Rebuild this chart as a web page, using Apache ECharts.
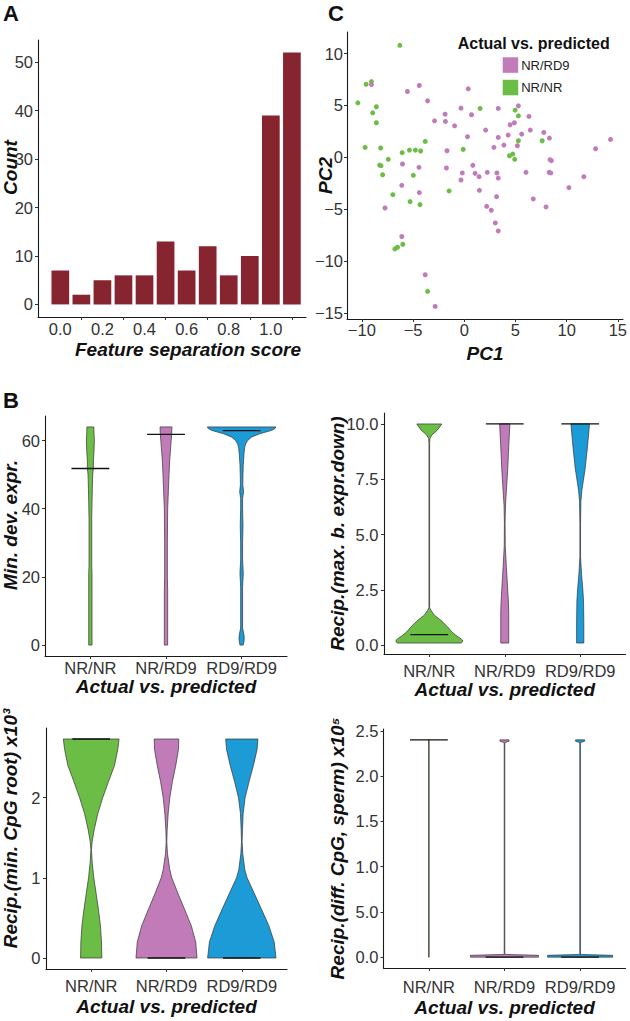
<!DOCTYPE html>
<html><head><meta charset="utf-8">
<script src="https://cdn.jsdelivr.net/npm/echarts@6/dist/echarts.min.js"></script>
<style>html,body{margin:0;padding:0;background:#fff}#c{width:630px;height:1021px}</style>
</head><body><div id="c"></div>
<script>
// ---------- Panel A : histogram ----------
const binCenters = [0.0,0.1,0.2,0.3,0.4,0.5,0.6,0.7,0.8,0.9,1.0,1.1];
const binCounts = [7,2,5,6,6,13,7,12,6,10,39,52];
const histXLabelPos = [0,0.2,0.4,0.6,0.8,1.0];
const histXLabels = ['0.0','0.2','0.4','0.6','0.8','1.0'];
const histXTickPos = [0.1,0.3,0.5,0.7,0.9,1.1];
const histYTicks = [0,10,20,30,40,50];

// ---------- Panel C : PCA ----------
const pcaNRNR = [[-6.29,10.79],[-9.58,7.04],[-9.06,7.30],[-10.39,5.25],[-8.58,4.87],[-8.94,4.29],[-8.58,3.33],[-9.68,0.96],[-8.16,0.90],[-8.26,-0.74],[-8.13,-0.80],[-7.97,-1.67],[-7.42,-0.19],[-6.06,0.45],[-5.35,0.70],[-4.77,0.70],[-4.26,0.61],[-3.81,1.54],[-4.97,-1.73],[-6.97,-3.59],[-5.29,-4.26],[-4.32,-4.55],[-6.77,-8.81],[-6.52,-8.65],[-6.0,-8.36],[-3.58,-12.9],[-0.10,0.77],[-1.48,-3.23],[1.55,4.71],[4.97,4.55],[5.29,4.00],[7.61,1.60],[5.29,1.60],[4.42,0.16],[4.74,0.32],[4.93,-0.19]];
const pcaNRRD9 = [[-9.06,7.01],[-5.55,6.34],[-4.39,6.92],[-3.58,5.44],[-2.90,3.52],[-1.87,4.16],[-1.84,3.46],[-0.94,3.04],[-0.32,4.74],[0.39,6.60],[0.71,4.10],[0.32,1.99],[0.84,-0.77],[1.06,-1.54],[1.45,-1.86],[1.48,-3.17],[-1.68,0.64],[-1.74,-1.02],[-0.19,-1.50],[-0.32,-2.18],[-6.03,-0.64],[-6.10,-2.69],[-4.42,-0.96],[-4.39,-3.39],[-7.74,-4.87],[-6.10,-7.62],[-3.81,-11.30],[-2.84,-14.35],[3.32,4.71],[5.29,4.96],[6.32,3.94],[4.48,3.14],[4.90,3.33],[2.09,2.63],[3.32,1.92],[4.29,2.15],[5.61,2.24],[6.45,2.63],[7.77,2.40],[8.32,1.86],[2.90,0.96],[3.87,1.18],[5.19,1.12],[8.38,-0.22],[8.51,-0.32],[2.25,-1.44],[3.19,-1.50],[3.32,-1.99],[6.03,-1.44],[8.29,-1.44],[8.45,-1.50],[3.16,-3.78],[2.19,-4.71],[2.64,-5.09],[3.03,-6.31],[3.32,-7.08],[6.74,-4.0],[7.99,-4.77],[10.22,-2.91],[11.68,-1.86],[12.83,0.83],[14.29,1.73]];
const pcaXTicks = [-10,-5,0,5,10,15];
const pcaXLabels = ['\u221210','\u22125','0','5','10','15'];
const pcaYTicks = [-15,-10,-5,0,5,10];
const pcaYLabels = ['\u221215','\u221210','\u22125','0','5','10'];

// ---------- Panel B : violins ----------
const groups = ['NR/NR','NR/RD9','RD9/RD9'];
// [value, half-width in category units]
const minDevNRNR = [[0,0.022],[5,0.022],[10,0.022],[15,0.022],[21,0.022],[23,0.018],[30,0.018],[37,0.018],[42,0.022],[46,0.026],[50,0.031],[52,0.04],[54,0.04],[57,0.048],[60,0.053],[62,0.048],[64,0.046]];
const minDevNRRD9 = [[0,0.022],[5,0.022],[10,0.022],[16,0.022],[20,0.018],[30,0.018],[40,0.022],[45,0.031],[50,0.04],[54,0.048],[58,0.062],[62,0.075],[64,0.079]];
const minDevRD9RD9 = [[0,0.022],[1,0.031],[2,0.035],[3,0.031],[5,0.013],[10,0.013],[17,0.013],[21,0.022],[25,0.013],[30,0.013],[35,0.018],[40,0.013],[43,0.013],[45,0.026],[47,0.016],[50,0.018],[53,0.022],[56,0.031],[58,0.04],[59,0.053],[60,0.08],[61,0.13],[62,0.24],[63,0.40],[63.5,0.44],[64,0.454]];
const minDevMedians = [51.8,61.8,62.9];
const minDevYTicks = [0,20,40,60];

const maxBNRNR = [[0.1,0.42],[0.15,0.44],[0.23,0.44],[0.33,0.405],[0.45,0.353],[0.6,0.30],[0.83,0.243],[0.98,0.198],[1.13,0.154],[1.36,0.066],[1.58,0.022],[1.7,0.0045],[9.15,0.0045],[9.35,0.009],[9.5,0.035],[9.73,0.11],[10,0.165]];
const maxBNRRD9 = [[0.1,0.053],[1.0,0.053],[1.5,0.053],[2.0,0.048],[3.0,0.031],[3.5,0.022],[4.5,0.0066],[5.5,0.0044],[6.3,0.009],[7,0.022],[8,0.04],[9,0.053],[10,0.068]];
const maxBRD9RD9 = [[0.1,0.048],[1.0,0.048],[2.0,0.044],[2.5,0.035],[3.2,0.018],[4,0.0044],[5.5,0.0044],[6.5,0.009],[7,0.022],[8,0.066],[9,0.097],[10,0.123]];
const maxBMedians = [0.48,10,10];
const maxBYTicks = [0,2.5,5,7.5,10];
const maxBYLabels = ['0.0','2.5','5.0','7.5','10.0'];

const cpgRootNRNR = [[0,0.141],[0.2,0.137],[0.4,0.123],[0.6,0.097],[0.8,0.066],[1.0,0.035],[1.2,0.013],[1.35,0.004],[1.45,0.013],[1.6,0.04],[1.8,0.088],[2.0,0.154],[2.2,0.23],[2.4,0.31],[2.6,0.353],[2.73,0.37]];
const cpgRootNRRD9 = [[0,0.405],[0.2,0.388],[0.4,0.33],[0.6,0.243],[0.8,0.154],[1.0,0.07],[1.1,0.044],[1.3,0.013],[1.45,0.004],[1.6,0.009],[1.8,0.022],[2.0,0.044],[2.2,0.079],[2.4,0.123],[2.6,0.159],[2.73,0.163]];
const cpgRootRD9RD9 = [[0,0.454],[0.2,0.43],[0.4,0.36],[0.6,0.265],[0.8,0.168],[1.0,0.07],[1.1,0.04],[1.3,0.013],[1.45,0.004],[1.6,0.009],[1.8,0.018],[2.0,0.044],[2.2,0.097],[2.4,0.154],[2.6,0.203],[2.73,0.214]];
const cpgRootMedians = [2.73,0,0];
const cpgRootYTicks = [0,1,2];

const cpgSpermNRNR = [[0,0.004],[2.4,0.004]];
const cpgSpermNRRD9 = [[0,0.45],[0.02,0.45],[0.03,0.004],[2.37,0.004],[2.385,0.06],[2.4,0.06]];
const cpgSpermRD9RD9 = [[0,0.43],[0.02,0.43],[0.03,0.004],[2.37,0.004],[2.385,0.06],[2.4,0.06]];
const cpgSpermMedians = [2.4,0,0];
const cpgSpermYTicks = [0,0.5,1,1.5,2,2.5];
const cpgSpermYLabels = ['0.0','5.0','1.0','1.5','2.0','2.5'];

// ---------- styling ----------
const FONT = '"Liberation Sans", Arial, Helvetica, sans-serif';
const GREEN = '#6cbd45', PINK = '#c17bb9', BLUE = '#1c9bd7', BAR = '#862430';
const violinColors = [GREEN, PINK, BLUE];
const tickText = {fontFamily: FONT, fontSize: 16.5, color: '#333'};
const titleText = {fontFamily: FONT, fontSize: 19, fontWeight: 'bold', fontStyle: 'italic', color: '#111'};
const axisLine = {show: true, onZero: false, lineStyle: {color: '#1a1a1a', width: 1.1}};
const axisTick = {show: true, length: 3, lineStyle: {color: '#333', width: 1}};

function labelFrom(values, labels) {
  return function (v) {
    for (let i = 0; i < values.length; i++) if (Math.abs(values[i] - v) < 1e-6) return labels[i];
    return '';
  };
}

function xAxisCfg(gi, min, max, labelPos, labels, tickPos, name, margin, nameGap, namePad) {
  return {
    type: 'value', gridIndex: gi, min: min, max: max, splitLine: {show: false},
    axisLine: axisLine,
    axisTick: Object.assign({}, axisTick, {customValues: tickPos}),
    axisLabel: Object.assign({}, tickText, {customValues: labelPos, margin: margin, formatter: labelFrom(labelPos, labels), showMinLabel: true, showMaxLabel: true}),
    name: name, nameLocation: 'middle', nameGap: nameGap, nameMoveOverlap: false,
    nameTextStyle: Object.assign({}, titleText, namePad ? {padding: namePad} : {})
  };
}
function yAxisCfg(gi, min, max, ticks, labels, name, margin, nameGap, namePad) {
  return {
    type: 'value', gridIndex: gi, min: min, max: max, splitLine: {show: false},
    axisLine: axisLine,
    axisTick: Object.assign({}, axisTick, {customValues: ticks}),
    axisLabel: Object.assign({}, tickText, {customValues: ticks, margin: margin, formatter: labelFrom(ticks, labels)}),
    name: name, nameLocation: 'middle', nameGap: nameGap, nameRotate: 90, nameMoveOverlap: false,
    nameTextStyle: Object.assign({}, titleText, namePad ? {padding: namePad} : {})
  };
}

function violinSeries(gi, profiles, medians) {
  return {
    type: 'custom', xAxisIndex: gi, yAxisIndex: gi, silent: true, animation: false,
    data: groups.map((g, i) => [i + 1, medians[i]]),
    renderItem: function (params, api) {
      const i = params.dataIndex, cx = i + 1, prof = profiles[i];
      const right = prof.map(p => api.coord([cx + p[1], p[0]]));
      const left = prof.slice().reverse().map(p => api.coord([cx - p[1], p[0]]));
      const a = api.coord([cx - 0.25, medians[i]]), b = api.coord([cx + 0.25, medians[i]]);
      return {type: 'group', children: [
        {type: 'polygon', shape: {points: right.concat(left)}, style: {fill: violinColors[i], stroke: '#333', lineWidth: 0.7}},
        {type: 'line', shape: {x1: a[0], y1: a[1], x2: b[0], y2: b[1]}, style: {stroke: '#111', lineWidth: 1.3}}
      ]};
    }
  };
}

const catPos = [1, 2, 3];
const chart = echarts.init(document.getElementById('c'), null, {renderer: 'svg'});
chart.setOption({
  backgroundColor: '#fff',
  animation: false,
  grid: [
    {left: 38, top: 40, width: 268, height: 277},      // A
    {left: 347, top: 32, width: 280, height: 287},     // C
    {left: 45, top: 416, width: 242, height: 240},     // B1
    {left: 384, top: 413, width: 241.5, height: 241},  // B2
    {left: 45, top: 728, width: 242, height: 241},     // B3
    {left: 383.5, top: 729, width: 242, height: 239}   // B4
  ],
  xAxis: [
    xAxisCfg(0, -0.106, 1.167, histXLabelPos, histXLabels, histXTickPos, 'Feature separation score', 3.5, 23, [0, 0, 0, 32]),
    xAxisCfg(1, -11.45, 15.5, pcaXTicks, pcaXLabels, pcaXTicks, 'PC1', 2, 25),
    xAxisCfg(2, 0.4, 3.6, catPos, groups, catPos, 'Actual vs. predicted', 3, 21),
    xAxisCfg(3, 0.4, 3.6, catPos, groups, catPos, 'Actual vs. predicted', 8.5, 26),
    xAxisCfg(4, 0.4, 3.6, catPos, groups, catPos, 'Actual vs. predicted', 8.5, 28),
    xAxisCfg(5, 0.4, 3.6, catPos, groups, catPos, 'Actual vs. predicted', 10.5, 30)
  ],
  yAxis: [
    yAxisCfg(0, -2.6, 54.6, histYTicks, histYTicks.map(String), 'Count', 5, 18, [0, 0, 0, 22]),
    yAxisCfg(1, -15.56, 12.07, pcaYTicks, pcaYLabels, 'PC2', 4, 12),
    yAxisCfg(2, -3.2, 67.2, minDevYTicks, minDevYTicks.map(String), 'Min. dev. expr.', 5, 25, [0, 0, 0, 22]),
    yAxisCfg(3, -0.395, 10.495, maxBYTicks, maxBYLabels, 'Recip.(max. b. expr.down)', 5.5, 37),
    yAxisCfg(4, -0.137, 2.867, cpgRootYTicks, cpgRootYTicks.map(String), 'Recip.(min. CpG root) x10\u00B3', 5.5, 26, [0, 0, 0, 40]),
    yAxisCfg(5, -0.12, 2.52, cpgSpermYTicks, cpgSpermYLabels, 'Recip.(diff. CpG, sperm) x10\u2075', 5, 37)
  ],
  legend: {
    data: ['NR/RD9', 'NR/NR'], orient: 'vertical', left: 502.7, top: 57.3, padding: 0,
    itemWidth: 15.5, itemHeight: 15.5, itemGap: 7, icon: 'rect',
    textStyle: {fontFamily: FONT, fontSize: 13, color: '#222', padding: [0, 0, 0, -2]}
  },
  graphic: [
    {type: 'text', left: 3, top: 2, style: {text: 'A', font: 'bold 22px ' + FONT, fill: '#111'}},
    {type: 'text', left: 3, top: 389, style: {text: 'B', font: 'bold 22px ' + FONT, fill: '#111'}},
    {type: 'text', left: 328, top: 2, style: {text: 'C', font: 'bold 22px ' + FONT, fill: '#111'}},
    {type: 'text', left: 457.7, top: 35, style: {text: 'Actual vs. predicted', font: 'bold 16px ' + FONT, fill: '#111'}}
  ],
  series: [
    {type: 'bar', xAxisIndex: 0, yAxisIndex: 0, barWidth: 17.7, itemStyle: {color: BAR},
     data: binCenters.map((c, i) => [c, binCounts[i]])},
    {type: 'scatter', name: 'NR/NR', xAxisIndex: 1, yAxisIndex: 1, symbolSize: 5, itemStyle: {color: GREEN, opacity: 1}, data: pcaNRNR},
    {type: 'scatter', name: 'NR/RD9', xAxisIndex: 1, yAxisIndex: 1, symbolSize: 5, itemStyle: {color: PINK, opacity: 1}, data: pcaNRRD9},
    violinSeries(2, [minDevNRNR, minDevNRRD9, minDevRD9RD9], minDevMedians),
    violinSeries(3, [maxBNRNR, maxBNRRD9, maxBRD9RD9], maxBMedians),
    violinSeries(4, [cpgRootNRNR, cpgRootNRRD9, cpgRootRD9RD9], cpgRootMedians),
    violinSeries(5, [cpgSpermNRNR, cpgSpermNRRD9, cpgSpermRD9RD9], cpgSpermMedians)
  ]
});
</script></body></html>
